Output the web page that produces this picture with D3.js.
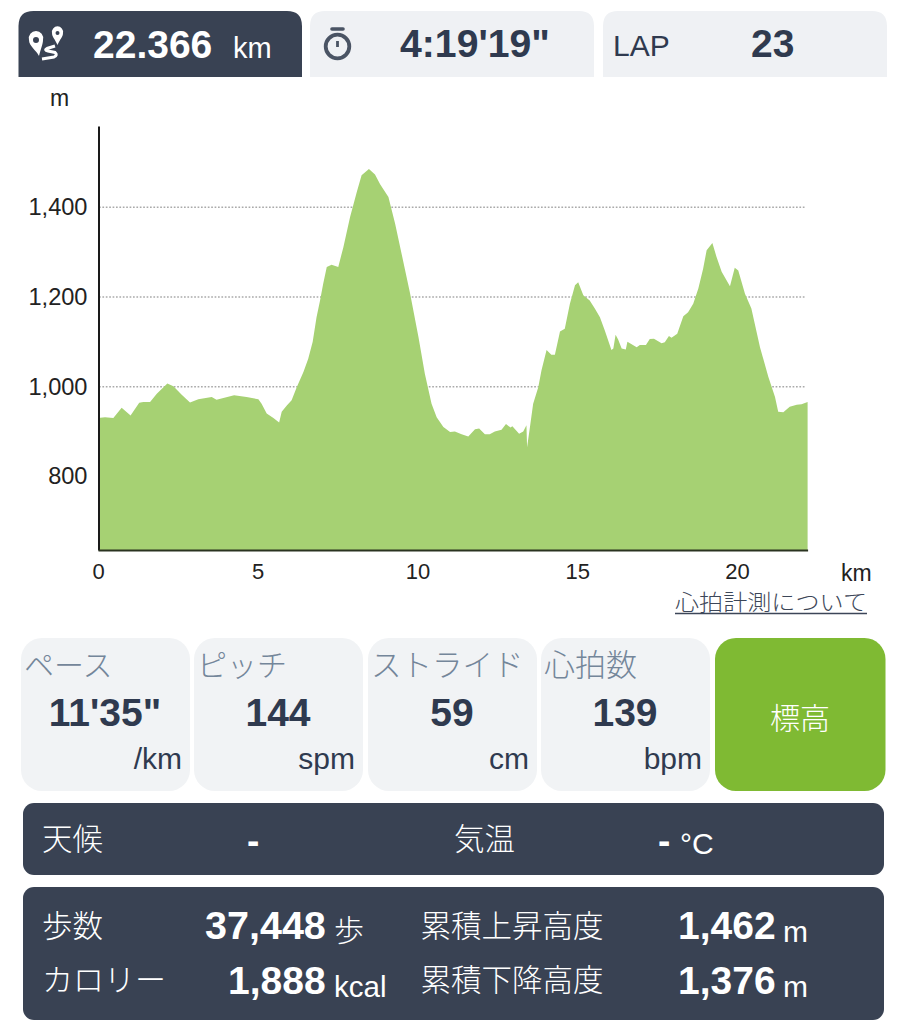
<!DOCTYPE html>
<html><head><meta charset="utf-8">
<script src="https://cdn.jsdelivr.net/npm/d3@7/dist/d3.min.js"></script>
<style>
html,body{margin:0;padding:0;background:#fff}
svg{display:block}
text{font-family:"Liberation Sans","Noto Sans CJK JP",sans-serif}
.jp{font-family:"Noto Sans CJK JP",sans-serif;font-weight:300}
</style></head><body><svg id="c" width="907" height="1024"></svg>
<script>
const km=[0,.22,.48,.74,1.02,1.29,1.42,1.63,1.84,2.17,2.36,2.62,2.88,3.14,3.56,3.71,4.26,4.65,5.02,5.12,5.28,5.49,5.67,5.75,5.91,6.06,6.22,6.43,6.58,6.72,6.84,6.95,7.05,7.16,7.31,7.52,7.68,7.89,8.10,8.25,8.48,8.67,8.83,9.09,9.30,9.50,9.77,10.03,10.23,10.44,10.60,10.81,11.02,11.17,11.38,11.59,11.80,11.93,12.11,12.26,12.42,12.63,12.77,12.91,12.97,13.18,13.31,13.41,13.43,13.52,13.62,13.78,13.88,14.04,14.19,14.30,14.46,14.61,14.77,14.93,15.03,15.19,15.39,15.55,15.71,15.86,16.07,16.13,16.20,16.28,16.39,16.52,16.57,16.86,16.96,17.15,17.27,17.40,17.64,17.74,17.87,17.95,18.13,18.32,18.47,18.63,18.79,18.94,19.05,19.23,19.36,19.52,19.78,19.93,20.04,20.25,20.45,20.72,20.98,21.19,21.29,21.45,21.65,21.87,22.02,22.21];
const elevation=[930,932,930,953,936,964,966,966,984,1007,1001,982,965,972,977,971,981,977,972,962,940,930,920,944,958,970,999,1033,1062,1100,1155,1192,1230,1267,1272,1267,1311,1378,1434,1471,1485,1473,1451,1423,1363,1297,1207,1111,1029,962,932,910,899,900,894,889,905,907,894,894,900,904,917,909,912,895,900,914,865,910,962,999,1036,1082,1071,1071,1123,1129,1185,1226,1233,1204,1192,1174,1155,1126,1082,1085,1116,1105,1085,1083,1100,1088,1093,1093,1106,1107,1097,1099,1113,1109,1118,1157,1166,1185,1219,1263,1304,1320,1289,1256,1224,1265,1259,1207,1174,1088,1022,977,944,943,955,960,961,966];
const xTicks=[0,5,10,15,20];
const yTicks=[800,1000,1200,1400];
const metricLabels=["ペース","ピッチ","ストライド","心拍数"];
const metricValues=["11'35\"","144","59","139"];
const metricUnits=["/km","spm","cm","bpm"];

const DARK="#394253",INK="#2f3a4f",LIGHT="#eff1f4",GREEN="#7fba33",AREA="#a6d173";
const svg=d3.select("#c");
const x=d3.scaleLinear().domain([0,22.21]).range([98,807.6]);
const y=d3.scaleLinear().domain([636,1581]).range([550,126]);

function T(s,px,py,size,fill,opt={}){
  return svg.append("text").attr("x",px).attr("y",py).attr("font-size",size).attr("fill",fill)
    .attr("text-anchor",opt.a||"start").attr("font-weight",opt.w||"normal")
    .attr("class",opt.c||null).attr("textLength",opt.l||null).attr("lengthAdjust",opt.l?"spacingAndGlyphs":null).text(s);
}
function tab(x0,x1,fill){
  const r=15,t=11,b=77;
  svg.append("path").attr("fill",fill).attr("d",`M${x0},${b}V${t+r}Q${x0},${t} ${x0+r},${t}H${x1-r}Q${x1},${t} ${x1},${t+r}V${b}Z`);
}
tab(18.5,302,DARK);tab(310,594,LIGHT);tab(603,887,LIGHT);

// route icon
const ic=svg.append("g");
ic.append("path").attr("fill","#fff").attr("fill-rule","evenodd")
  .attr("d","M29,40A7.2,7.2 0 1 1 43,40C43,44 41,48 39,56C36,50 29,46 29,40ZM33,40A3,3 0 1 0 39,40A3,3 0 1 0 33,40Z");
ic.append("path").attr("fill","#fff").attr("fill-rule","evenodd")
  .attr("d","M52,33A5.6,5.6 0 1 1 63,33C63,37 60,39 57.5,45C55,39 52,37 52,33ZM55.5,33A2,2 0 1 0 59.5,33A2,2 0 1 0 55.5,33Z");
ic.append("path").attr("fill","none").attr("stroke","#fff").attr("stroke-width",3)
  .attr("d","M55,46L47,48.5Q44,50 48,51L55,52.5Q58,55 54,57L42,59");
// stopwatch icon
const sw=svg.append("g").attr("fill","none").attr("stroke","#4a5464");
sw.append("circle").attr("cx",337.5).attr("cy",46.5).attr("r",11.8).attr("stroke-width",3.8);
sw.append("path").attr("d","M332,29H343").attr("stroke-width",3.6).attr("stroke-linecap","round");
sw.append("path").attr("d","M337.5,41V47").attr("stroke-width",2.8);

T("22.366",93,58,39,"#fff",{w:"bold"});
T("km",233,58,29,"#fff");
T("4:19'19\"",400,57,39.2,INK,{w:"bold"});
T("LAP",613,56,30,INK);
T("23",751,57,39,INK,{w:"bold"});

// chart
T("m",50,106,23,"#222");
const yAxis=d3.axisLeft(y).tickValues(yTicks).tickFormat(d3.format(",")).tickSize(0).tickPadding(11);
const xAxis=d3.axisBottom(x).tickValues(xTicks).tickSize(0).tickPadding(13);
svg.append("g").selectAll("line").data(yTicks).join("line")
  .attr("x1",99).attr("x2",806).attr("y1",d=>y(d)).attr("y2",d=>y(d))
  .attr("stroke","#aaa").attr("stroke-width",1.4).attr("stroke-dasharray","1.7 1.7");
const area=d3.area().x((d,i)=>x(km[i])).y0(y(636)).y1(d=>y(d));
svg.append("path").datum(elevation).attr("fill",AREA).attr("d",area);
const gy=svg.append("g").attr("transform","translate(98.5,0)").call(yAxis);
gy.select(".domain").attr("stroke","#1a1a1a").attr("stroke-width",2);
gy.selectAll("text").attr("font-size",23.6).attr("fill","#222");
const gx=svg.append("g").attr("transform","translate(0,550)").call(xAxis);
gx.select(".domain").attr("stroke","#2a3320").attr("stroke-width",2);
gx.selectAll("text").attr("font-size",22).attr("fill","#222");
T("km",841,581,23,"#222");
T("心拍計測について",675,610,22,"#3c4658",{c:"jp",l:192});
svg.append("line").attr("x1",675).attr("x2",867).attr("y1",613.5).attr("y2",613.5).attr("stroke","#3c4658").attr("stroke-width",1.3);

// metric cards
const cardX=[21,194,368,541];
const cardW=169;
const labelSize=[30,30,30.5,31];
metricLabels.forEach((s,i)=>{
  svg.append("rect").attr("x",cardX[i]).attr("y",638).attr("width",cardW).attr("height",153).attr("rx",21).attr("fill","#f1f3f5");
  T(s,cardX[i]+3,676,labelSize[i],"#74869a",{c:"jp"});
  T(metricValues[i],cardX[i]+84,726,39,INK,{a:"middle",w:"bold"});
  T(metricUnits[i],cardX[i]+161,769,30,INK,{a:"end"});
});
svg.append("rect").attr("x",715).attr("y",638).attr("width",170.5).attr("height",153).attr("rx",21).attr("fill",GREEN);
T("標高",800,729,30,"#fff",{a:"middle",c:"jp"});

// dark panels
svg.append("rect").attr("x",23).attr("y",803).attr("width",861).attr("height",72).attr("rx",11).attr("fill",DARK);
svg.append("rect").attr("x",23).attr("y",887).attr("width",861).attr("height",133).attr("rx",11).attr("fill",DARK);
T("天候",42,850,30.5,"#fff",{c:"jp"});
T("-",247,853,37,"#fff",{w:"bold"});
T("気温",454,850,30.5,"#fff",{c:"jp"});
T("-",658,853,37,"#fff",{w:"bold"});
T("°C",680,854,30,"#fff");
T("歩数",42,937,30.5,"#fff",{c:"jp"});
T("37,448",205,939,39.5,"#fff",{w:"bold"});
T("歩",334,941,30,"#fff",{c:"jp"});
T("累積上昇高度",420.5,937,30.5,"#fff",{c:"jp"});
T("1,462",678,939,39,"#fff",{w:"bold"});
T("m",783,942,30,"#fff");
T("カロリー",42,991,31,"#fff",{c:"jp"});
T("1,888",228,994,39,"#fff",{w:"bold"});
T("kcal",334,997,29.5,"#fff");
T("累積下降高度",420.5,991,30.5,"#fff",{c:"jp"});
T("1,376",678,994,39,"#fff",{w:"bold"});
T("m",783,997,30,"#fff");
</script></body></html>
